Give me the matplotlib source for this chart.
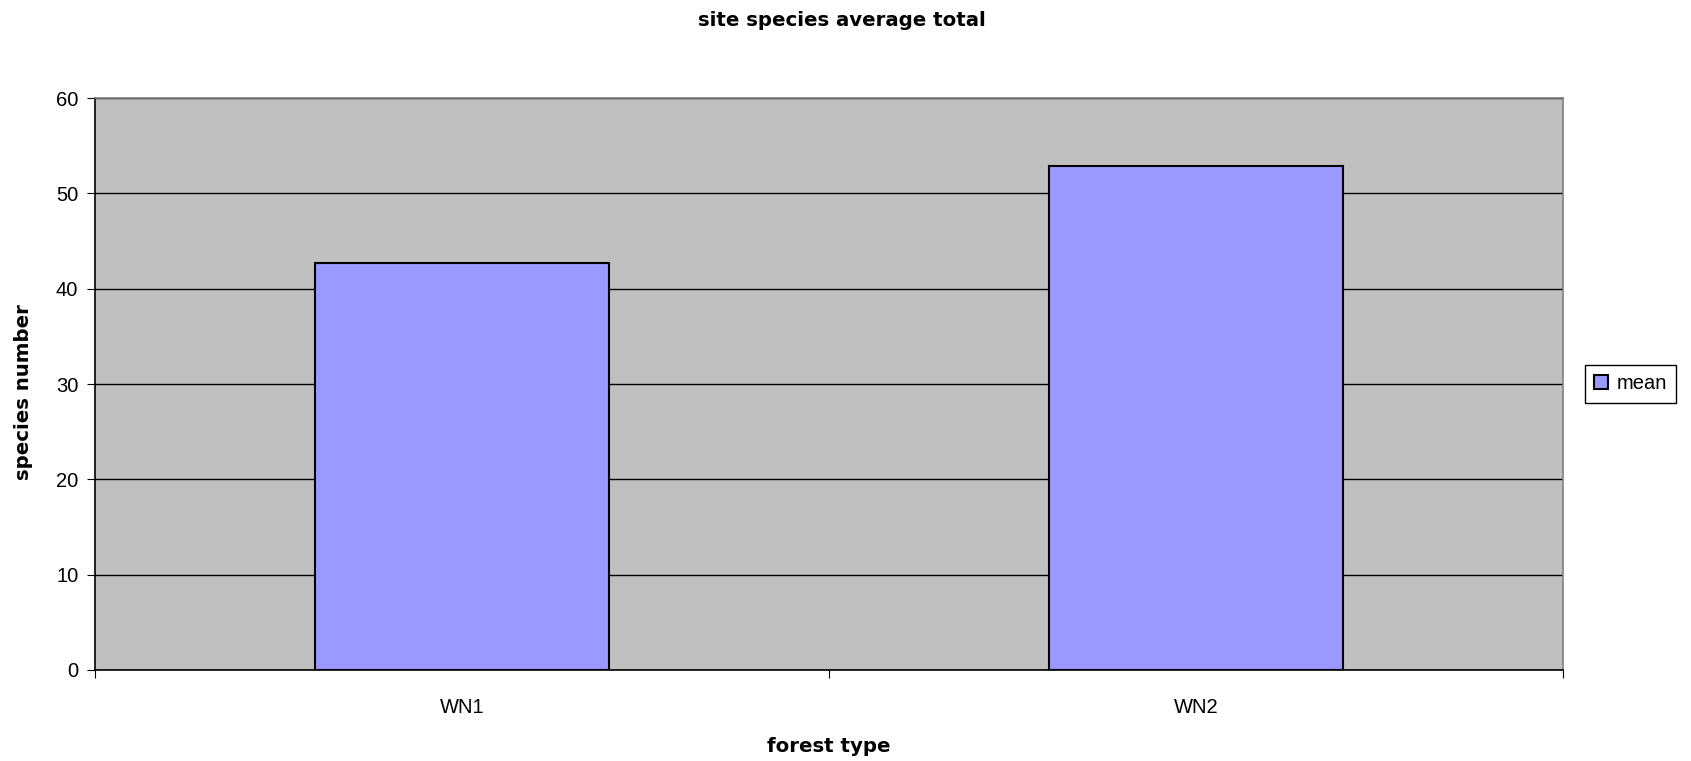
import matplotlib
matplotlib.use("Agg")
import matplotlib.pyplot as plt

# datos
categorias = ["WN1", "WN2"]
medias = [42.7, 52.9]
serie = "mean"

plt.rcParams["font.family"] = ["Liberation Sans", "DejaVu Sans"]

fig = plt.figure(figsize=(16.91, 7.61), dpi=100)
ax = fig.add_axes([0.0562, 0.1196, 0.8681, 0.7516])
ax.set_facecolor("#C0C0C0")

pos = list(range(len(categorias)))
ax.bar(pos, medias, width=0.4, color="#9999FF", edgecolor="black",
       linewidth=1.5, label=serie, zorder=3)

ax.set_xlim(-0.5, len(categorias) - 0.5)
ax.set_ylim(0, 60)
ax.set_yticks(range(0, 61, 10))
ax.yaxis.grid(True, color="black", linewidth=1, zorder=1)
ax.set_axisbelow(True)

# ticks en los limites de categoria, etiquetas en el centro
ax.set_xticks([p - 0.5 for p in pos] + [pos[-1] + 0.5])
ax.set_xticklabels([])
ax.set_xticks(pos, minor=True)
ax.set_xticklabels(categorias, minor=True)
ax.tick_params(axis="x", which="minor", length=0, pad=20, labelsize=14.5)
ax.tick_params(axis="x", which="major", length=6, direction="out", color="black")
ax.tick_params(axis="y", length=6, direction="out", labelsize=14.5, pad=6)

for s in ["top", "right"]:
    ax.spines[s].set_color("#808080")
    ax.spines[s].set_linewidth(1.2)
for s in ["left", "bottom"]:
    ax.spines[s].set_color("black")
    ax.spines[s].set_linewidth(1.2)

negrita = dict(fontsize=14.2, fontweight="bold", family="DejaVu Sans")
fig.text(842 / 1691, 1 - 20 / 761, "site species average total", ha="center", va="center",
         **negrita)
fig.text(829 / 1691, 1 - 746 / 761, "forest type", ha="center", va="center", **negrita)
fig.text(24 / 1691, 1 - 392 / 761, "species number", ha="center", va="center",
         rotation=90, **negrita)

ley = fig.legend(loc="center left", bbox_to_anchor=(1585 / 1691, 1 - 384 / 761),
                 fontsize=14.5, fancybox=False, framealpha=1, edgecolor="black",
                 handlelength=0.7, handleheight=0.7, handletextpad=0.4,
                 borderpad=0.45, borderaxespad=0)
ley.get_frame().set_linewidth(1)

fig.savefig("out.png", dpi=100)
